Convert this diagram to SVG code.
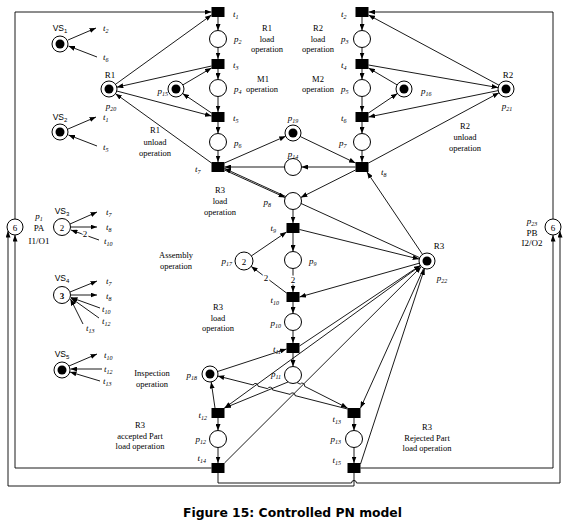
<svg xmlns="http://www.w3.org/2000/svg" width="573" height="523" viewBox="0 0 573 523">
<defs>
<marker id="ah" markerWidth="7" markerHeight="5" refX="6.5" refY="2.5" orient="auto" markerUnits="userSpaceOnUse"><path d="M0,0 L6.5,2.5 L0,5 z" fill="#000"/></marker>
<style>
.c path{stroke:#000;stroke-width:0.9;fill:none}
.c .a{marker-end:url(#ah)}
.pl{fill:#fff;stroke:#000;stroke-width:1}
.tk{fill:#000}
.tr{fill:#000}
.l{font-family:"Liberation Serif",serif;font-style:italic;font-size:9px;fill:#000}
.e{text-anchor:end}
.m{text-anchor:middle}
.s{font-size:6px}
.t{font-family:"Liberation Serif",serif;font-size:8.5px;text-anchor:middle;fill:#000}
.n{font-family:"Liberation Serif",serif;font-size:9px;text-anchor:middle;fill:#000}
.v{font-family:"Liberation Sans",sans-serif;font-size:8.5px;text-anchor:middle;fill:#000}
.w{font-family:"Liberation Serif",serif;font-size:9px;text-anchor:middle;fill:#000;stroke:#fff;stroke-width:3;paint-order:stroke}
</style>
</defs>
<rect width="573" height="523" fill="#fff"/>
<g id="connectors" class="c">
<path class="a" d="M218,17 V30.5"/>
<path class="a" d="M218,47.5 V59"/>
<path class="a" d="M218,69 V79.5"/>
<path class="a" d="M218,96.5 V112"/>
<path class="a" d="M218,122 V133.5"/>
<path class="a" d="M218,150.5 V162"/>
<path class="a" d="M362,17 V30.5"/>
<path class="a" d="M362,47.5 V59"/>
<path class="a" d="M362,69 V79.5"/>
<path class="a" d="M362,96.5 V112"/>
<path class="a" d="M362,122 V133.5"/>
<path class="a" d="M362,150.5 V162"/>
<path class="a" d="M224.5,170 L285.2,197.5"/>
<path class="a" d="M355.5,170 L300.8,197.5"/>
<path class="a" d="M293,209.5 V223"/>
<path class="a" d="M293,233 V251.5"/>
<path class="a" d="M293,268.5 V292"/>
<path class="a" d="M293,302 V313.5"/>
<path class="a" d="M293,330.5 V343"/>
<path class="a" d="M293,353 V366.5"/>
<path class="a" d="M218,418 V430.5"/>
<path class="a" d="M218,447.5 V463"/>
<path class="a" d="M354,418 V430.5"/>
<path class="a" d="M354,447.5 V463"/>
<path class="a" d="M288,382 L224.5,408"/>
<path class="a" d="M297,382.5 L300.2,384.1 A2.5,2.5 0 0 1 304.6,386.3 L347.5,408"/>
<path class="a" d="M347.5,409 L295,395.6 A2.5,2.5 0 0 0 290.2,394.4 L272.5,389.9 A2.5,2.5 0 0 0 267.7,388.7 L258,386.2 A2.5,2.5 0 0 0 253.2,385 L217.8,376"/>
<path class="a" d="M215,408 L211.2,382"/>
<path class="a" d="M217.6,371.5 L286.5,349"/>
<path class="a" d="M419.7,257.7 L224.5,168.5"/>
<path class="a" d="M422.5,254.4 L367,172"/>
<path class="a" d="M299.5,229.5 L419.2,259.1"/>
<path class="a" d="M419.3,263.2 L299.5,297"/>
<path class="a" d="M299.5,346 L420.3,265.4"/>
<path class="a" d="M420.5,265.7 L224.5,408"/>
<path class="a" d="M224.5,463 L421.3,266.6"/>
<path class="a" d="M423.7,268.3 L360.5,408"/>
<path class="a" d="M360.5,464 L424.5,268.6"/>
<path class="a" d="M251.4,255.9 L286.5,232"/>
<path class="a" d="M286.5,293 L251.2,266.4"/>
<path class="a" d="M115.5,84.3 L211.5,15"/>
<path class="a" d="M211.5,66 L116.8,87.2"/>
<path class="a" d="M116.7,91 L211.5,116"/>
<path class="a" d="M211.5,163 L115.5,93.7"/>
<path class="a" d="M182.9,84.9 L211.5,68"/>
<path class="a" d="M211.5,113 L182.6,93.5"/>
<path class="a" d="M499,85.2 L368.5,15"/>
<path class="a" d="M368.5,65 L498.1,87.6"/>
<path class="a" d="M498.2,90.6 L368.5,117"/>
<path class="a" d="M368.5,163 L499,92.8"/>
<path class="a" d="M397.1,84.9 L368.5,68"/>
<path class="a" d="M368.5,113 L397.4,93.5"/>
<path class="a" d="M224.5,163 L285.7,136.2"/>
<path class="a" d="M300.2,136.5 L355.5,163"/>
<path class="a" d="M355.5,167 L301.5,167"/>
<path class="a" d="M284.5,167 L224.5,167"/>
<path class="a" d="M68,40 L96,28"/>
<path class="a" d="M97,57 L68.5,46"/>
<path class="a" d="M68,129 L96,117"/>
<path class="a" d="M97,146 L68.5,135"/>
<path class="a" d="M70,224 L97,212"/>
<path class="a" d="M71,227 L97,227"/>
<path class="a" d="M99,240 L71,230"/>
<path class="a" d="M70,292 L97,281"/>
<path class="a" d="M71,295 L97,295"/>
<path class="a" d="M100,308 L71,297.5"/>
<path class="a" d="M99,318 L71,298"/>
<path class="a" d="M83,324 L70.5,299"/>
<path class="a" d="M69,366 L97,354"/>
<path class="a" d="M102,369 L70.5,369"/>
<path class="a" d="M100,381 L70,372"/>
<path class="a" d="M15,219 V12 H211.5"/>
<path class="a" d="M553,219 V12 H368.5"/>
<path class="a" d="M211.5,468 H15 V235"/>
<path class="a" d="M360.5,468 H553 V235"/>
<path class="a" d="M218,473 V483 H351.5 A2.5,2.5 0 0 1 356.5,483 H560 V231"/>
<path class="a" d="M354,473 V486 H8 V231"/>
</g>
<g id="weights">
<text class="w" x="293" y="283">2</text>
<text class="w" x="266" y="281">2</text>
<text class="w" x="85" y="237">2</text>
</g>
<g id="t1"><rect class="tr" x="211.5" y="7" width="13" height="10"/><text class="l" x="233" y="17">t<tspan class="s" dy="2">1</tspan></text></g>
<g id="p2"><circle class="pl" cx="218" cy="39" r="8.5"/><text class="l" x="234" y="42">p<tspan class="s" dy="2">2</tspan></text></g>
<g id="t3"><rect class="tr" x="211.5" y="59" width="13" height="10"/><text class="l" x="233" y="68">t<tspan class="s" dy="2">3</tspan></text></g>
<g id="p4"><circle class="pl" cx="218" cy="88" r="8.5"/><text class="l" x="234" y="92">p<tspan class="s" dy="2">4</tspan></text></g>
<g id="t5"><rect class="tr" x="211.5" y="112" width="13" height="10"/><text class="l" x="233" y="121">t<tspan class="s" dy="2">5</tspan></text></g>
<g id="p6"><circle class="pl" cx="218" cy="142" r="8.5"/><text class="l" x="234" y="146">p<tspan class="s" dy="2">6</tspan></text></g>
<g id="t7"><rect class="tr" x="211.5" y="162" width="13" height="10"/><text class="l" x="195" y="172">t<tspan class="s" dy="2">7</tspan></text></g>
<g id="t2"><rect class="tr" x="355.5" y="7" width="13" height="10"/><text class="l" x="341" y="17">t<tspan class="s" dy="2">2</tspan></text></g>
<g id="p3"><circle class="pl" cx="362" cy="39" r="8.5"/><text class="l" x="341" y="42">p<tspan class="s" dy="2">3</tspan></text></g>
<g id="t4"><rect class="tr" x="355.5" y="59" width="13" height="10"/><text class="l" x="341" y="68">t<tspan class="s" dy="2">4</tspan></text></g>
<g id="p5"><circle class="pl" cx="362" cy="88" r="8.5"/><text class="l" x="341" y="92">p<tspan class="s" dy="2">5</tspan></text></g>
<g id="t6"><rect class="tr" x="355.5" y="112" width="13" height="10"/><text class="l" x="341" y="121">t<tspan class="s" dy="2">6</tspan></text></g>
<g id="p7"><circle class="pl" cx="362" cy="142" r="8.5"/><text class="l" x="339" y="146">p<tspan class="s" dy="2">7</tspan></text></g>
<g id="t8"><rect class="tr" x="355.5" y="162" width="13" height="10"/><text class="l" x="381" y="175">t<tspan class="s" dy="2">8</tspan></text></g>
<g id="p19"><circle class="pl" cx="293" cy="133" r="8"/><circle class="tk" cx="293" cy="133" r="4.5"/><text class="l m" x="293" y="121">p<tspan class="s" dy="2">19</tspan></text></g>
<g id="p14"><circle class="pl" cx="293" cy="167" r="8.5"/><text class="l m" x="293" y="157">p<tspan class="s" dy="2">14</tspan></text></g>
<g id="p20"><circle class="pl" cx="109" cy="89" r="8"/><circle class="tk" cx="109" cy="89" r="4.5"/><text class="n" x="110" y="78">R1</text><text class="l m" x="111" y="109">p<tspan class="s" dy="2">20</tspan></text></g>
<g id="p15"><circle class="pl" cx="176" cy="89" r="8"/><circle class="tk" cx="176" cy="89" r="4.5"/><text class="l e" x="168" y="94">p<tspan class="s" dy="2">15</tspan></text></g>
<g id="p16"><circle class="pl" cx="404" cy="89" r="8"/><circle class="tk" cx="404" cy="89" r="4.5"/><text class="l" x="421" y="94">p<tspan class="s" dy="2">16</tspan></text></g>
<g id="p21"><circle class="pl" cx="506" cy="89" r="8"/><circle class="tk" cx="506" cy="89" r="4.5"/><text class="n" x="508" y="78">R2</text><text class="l m" x="507" y="109">p<tspan class="s" dy="2">21</tspan></text></g>
<g id="p8"><circle class="pl" cx="293" cy="201" r="8.5"/><text class="l e" x="271" y="205">p<tspan class="s" dy="2">8</tspan></text></g>
<g id="t9"><rect class="tr" x="286.5" y="223" width="13" height="10"/><text class="l e" x="276" y="231">t<tspan class="s" dy="2">9</tspan></text></g>
<g id="p9"><circle class="pl" cx="293" cy="260" r="8.5"/><text class="l" x="309" y="264">p<tspan class="s" dy="2">9</tspan></text></g>
<g id="p17"><circle class="pl" cx="244" cy="261" r="9"/><text class="n" x="244" y="264.5">2</text><text class="l e" x="232" y="264">p<tspan class="s" dy="2">17</tspan></text></g>
<g id="t10"><rect class="tr" x="286.5" y="292" width="13" height="10"/><text class="l e" x="279" y="303">t<tspan class="s" dy="2">10</tspan></text></g>
<g id="p10"><circle class="pl" cx="293" cy="322" r="8.5"/><text class="l e" x="281" y="326">p<tspan class="s" dy="2">10</tspan></text></g>
<g id="t11"><rect class="tr" x="286.5" y="343" width="13" height="10"/><text class="l e" x="281" y="352">t<tspan class="s" dy="2">11</tspan></text></g>
<g id="p11"><circle class="pl" cx="293" cy="375" r="8.5"/><text class="l e" x="281" y="377">p<tspan class="s" dy="2">11</tspan></text></g>
<g id="p18"><circle class="pl" cx="210" cy="374" r="8"/><circle class="tk" cx="210" cy="374" r="4.5"/><text class="l e" x="197" y="378">p<tspan class="s" dy="2">18</tspan></text></g>
<g id="t12"><rect class="tr" x="211.5" y="408" width="13" height="10"/><text class="l e" x="207" y="418">t<tspan class="s" dy="2">12</tspan></text></g>
<g id="p12"><circle class="pl" cx="218" cy="439" r="8.5"/><text class="l e" x="206" y="442">p<tspan class="s" dy="2">12</tspan></text></g>
<g id="t14"><rect class="tr" x="211.5" y="463" width="13" height="10"/><text class="l e" x="206" y="461">t<tspan class="s" dy="2">14</tspan></text></g>
<g id="t13"><rect class="tr" x="347.5" y="408" width="13" height="10"/><text class="l e" x="341" y="422">t<tspan class="s" dy="2">13</tspan></text></g>
<g id="p13"><circle class="pl" cx="354" cy="439" r="8.5"/><text class="l e" x="341" y="442">p<tspan class="s" dy="2">13</tspan></text></g>
<g id="t15"><rect class="tr" x="347.5" y="463" width="13" height="10"/><text class="l e" x="341" y="463">t<tspan class="s" dy="2">15</tspan></text></g>
<g id="p22"><circle class="pl" cx="427" cy="261" r="8"/><circle class="tk" cx="427" cy="261" r="4.5"/><text class="n" x="439" y="249">R3</text><text class="l m" x="442" y="281">p<tspan class="s" dy="2">22</tspan></text></g>
<g id="p1"><circle class="pl" cx="15" cy="227" r="8"/><text class="n" x="15" y="230.5">6</text><text class="l m" x="39" y="219">p<tspan class="s" dy="2">1</tspan></text><text class="n" x="39" y="230.5">PA</text><text class="n" x="39" y="243.5">I1/O1</text></g>
<g id="p23"><circle class="pl" cx="553" cy="227" r="8"/><text class="n" x="553" y="230.5">6</text><text class="l m" x="532" y="224">p<tspan class="s" dy="2">23</tspan></text><text class="n" x="532" y="236">PB</text><text class="n" x="532" y="245.5">I2/O2</text></g>
<g id="VS1"><circle class="pl" cx="60" cy="44" r="8"/><circle class="tk" cx="60" cy="44" r="4.5"/><text class="v" x="60" y="31">VS<tspan class="s" dy="2">1</tspan></text><text class="l" x="103" y="31">t<tspan class="s" dy="2">2</tspan></text><text class="l" x="103" y="60">t<tspan class="s" dy="2">6</tspan></text></g>
<g id="VS2"><circle class="pl" cx="60" cy="132" r="8"/><circle class="tk" cx="60" cy="132" r="4.5"/><text class="v" x="60" y="120">VS<tspan class="s" dy="2">2</tspan></text><text class="l" x="103" y="120">t<tspan class="s" dy="2">1</tspan></text><text class="l" x="103" y="150">t<tspan class="s" dy="2">5</tspan></text></g>
<g id="VS3"><circle class="pl" cx="62" cy="227" r="8.5"/><text class="n" x="62" y="230.5">2</text><text class="v" x="62" y="214">VS<tspan class="s" dy="2">3</tspan></text><text class="l" x="106" y="215">t<tspan class="s" dy="2">7</tspan></text><text class="l" x="106" y="230">t<tspan class="s" dy="2">8</tspan></text><text class="l" x="104" y="244">t<tspan class="s" dy="2">10</tspan></text></g>
<g id="VS4"><circle class="pl" cx="62" cy="295" r="8.5"/><text class="n" x="62" y="298.5" font-weight="bold">3</text><text class="v" x="62" y="281">VS<tspan class="s" dy="2">4</tspan></text><text class="l" x="106" y="284">t<tspan class="s" dy="2">7</tspan></text><text class="l" x="106" y="299">t<tspan class="s" dy="2">8</tspan></text><text class="l" x="102" y="312">t<tspan class="s" dy="2">10</tspan></text><text class="l" x="102" y="324">t<tspan class="s" dy="2">12</tspan></text><text class="l" x="86" y="331">t<tspan class="s" dy="2">13</tspan></text></g>
<g id="VS5"><circle class="pl" cx="62" cy="370" r="8"/><circle class="tk" cx="62" cy="370" r="4.5"/><text class="v" x="62" y="357">VS<tspan class="s" dy="2">5</tspan></text><text class="l" x="104" y="358">t<tspan class="s" dy="2">10</tspan></text><text class="l" x="104" y="372">t<tspan class="s" dy="2">12</tspan></text><text class="l" x="103" y="384">t<tspan class="s" dy="2">13</tspan></text></g>
<g id="annotations">
<text class="t" x="267" y="31">R1</text><text class="t" x="267" y="42">load</text><text class="t" x="267" y="52">operation</text>
<text class="t" x="318" y="31">R2</text><text class="t" x="318" y="42">load</text><text class="t" x="318" y="52">operation</text>
<text class="t" x="263" y="82">M1</text><text class="t" x="262" y="92">operation</text>
<text class="t" x="318" y="82">M2</text><text class="t" x="318" y="92">operation</text>
<text class="t" x="155" y="133">R1</text><text class="t" x="155" y="145">unload</text><text class="t" x="155" y="156">operation</text>
<text class="t" x="465" y="129">R2</text><text class="t" x="465" y="140">unload</text><text class="t" x="465" y="151">operation</text>
<text class="t" x="220" y="193">R3</text><text class="t" x="220" y="204">load</text><text class="t" x="220" y="215">operation</text>
<text class="t" x="176" y="258">Assembly</text><text class="t" x="176" y="269">operation</text>
<text class="t" x="218" y="310">R3</text><text class="t" x="218" y="321">load</text><text class="t" x="218" y="331">operation</text>
<text class="t" x="152" y="376">Inspection</text><text class="t" x="152" y="387">operation</text>
<text class="t" x="140" y="428">R3</text><text class="t" x="140" y="439">accepted Part</text><text class="t" x="140" y="449">load operation</text>
<text class="t" x="427" y="430">R3</text><text class="t" x="427" y="441">Rejected Part</text><text class="t" x="427" y="451">load operation</text>
</g>
<text x="183" y="516.5" font-family="DejaVu Sans, sans-serif" font-weight="bold" font-size="11.5" textLength="219" lengthAdjust="spacingAndGlyphs">Figure 15: Controlled PN model</text>
</svg>
